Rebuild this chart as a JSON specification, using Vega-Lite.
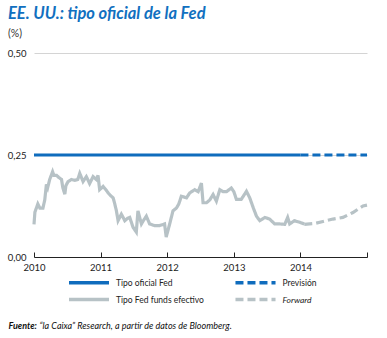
{
  "$schema": "https://vega.github.io/schema/vega-lite/v6.json",
  "width": 333,
  "height": 204,
  "autosize": {"type": "none"},
  "padding": {"left": 34, "top": 53, "right": 20, "bottom": 81},
  "background": "white",
  "config": {"view": {"stroke": null}, "font": "Lato, sans-serif"},
  "title": {
    "text": "EE. UU.: tipo oficial de la Fed",
    "subtitle": "(%)",
    "anchor": "start",
    "frame": "group",
    "dx": -26,
    "offset": 9,
    "color": "#1170c0",
    "fontSize": 16.5,
    "fontWeight": "bold",
    "fontStyle": "italic",
    "font": "Lato, sans-serif",
    "subtitleFont": "Lato, sans-serif",
    "subtitleFontSize": 10.5,
    "subtitleColor": "#333333",
    "subtitlePadding": 6
  },
  "data": {
    "values": [
      {"fecha": "2010-01-01", "valor": 0.25, "serie": "Tipo oficial Fed"},
      {"fecha": "2014-01-01", "valor": 0.25, "serie": "Tipo oficial Fed"},
      {"fecha": "2014-01-01", "valor": 0.25, "serie": "Previsión"},
      {"fecha": "2015-01-01", "valor": 0.25, "serie": "Previsión"},
      {"fecha": "2010-01-01", "valor": 0.08, "serie": "Tipo Fed funds efectivo"},
      {"fecha": "2010-01-06", "valor": 0.11, "serie": "Tipo Fed funds efectivo"},
      {"fecha": "2010-01-22", "valor": 0.13, "serie": "Tipo Fed funds efectivo"},
      {"fecha": "2010-02-02", "valor": 0.12, "serie": "Tipo Fed funds efectivo"},
      {"fecha": "2010-02-19", "valor": 0.12, "serie": "Tipo Fed funds efectivo"},
      {"fecha": "2010-03-01", "valor": 0.14, "serie": "Tipo Fed funds efectivo"},
      {"fecha": "2010-03-10", "valor": 0.178, "serie": "Tipo Fed funds efectivo"},
      {"fecha": "2010-03-17", "valor": 0.17, "serie": "Tipo Fed funds efectivo"},
      {"fecha": "2010-03-28", "valor": 0.19, "serie": "Tipo Fed funds efectivo"},
      {"fecha": "2010-04-13", "valor": 0.209, "serie": "Tipo Fed funds efectivo"},
      {"fecha": "2010-04-20", "valor": 0.2, "serie": "Tipo Fed funds efectivo"},
      {"fecha": "2010-05-05", "valor": 0.2, "serie": "Tipo Fed funds efectivo"},
      {"fecha": "2010-05-17", "valor": 0.195, "serie": "Tipo Fed funds efectivo"},
      {"fecha": "2010-06-01", "valor": 0.19, "serie": "Tipo Fed funds efectivo"},
      {"fecha": "2010-06-08", "valor": 0.17, "serie": "Tipo Fed funds efectivo"},
      {"fecha": "2010-06-19", "valor": 0.154, "serie": "Tipo Fed funds efectivo"},
      {"fecha": "2010-06-25", "valor": 0.175, "serie": "Tipo Fed funds efectivo"},
      {"fecha": "2010-07-07", "valor": 0.185, "serie": "Tipo Fed funds efectivo"},
      {"fecha": "2010-07-25", "valor": 0.19, "serie": "Tipo Fed funds efectivo"},
      {"fecha": "2010-08-13", "valor": 0.188, "serie": "Tipo Fed funds efectivo"},
      {"fecha": "2010-08-29", "valor": 0.19, "serie": "Tipo Fed funds efectivo"},
      {"fecha": "2010-09-09", "valor": 0.205, "serie": "Tipo Fed funds efectivo"},
      {"fecha": "2010-09-27", "valor": 0.185, "serie": "Tipo Fed funds efectivo"},
      {"fecha": "2010-10-15", "valor": 0.197, "serie": "Tipo Fed funds efectivo"},
      {"fecha": "2010-11-02", "valor": 0.18, "serie": "Tipo Fed funds efectivo"},
      {"fecha": "2010-11-21", "valor": 0.197, "serie": "Tipo Fed funds efectivo"},
      {"fecha": "2010-12-09", "valor": 0.19, "serie": "Tipo Fed funds efectivo"},
      {"fecha": "2010-12-18", "valor": 0.2, "serie": "Tipo Fed funds efectivo"},
      {"fecha": "2010-12-27", "valor": 0.165, "serie": "Tipo Fed funds efectivo"},
      {"fecha": "2011-01-15", "valor": 0.173, "serie": "Tipo Fed funds efectivo"},
      {"fecha": "2011-01-30", "valor": 0.165, "serie": "Tipo Fed funds efectivo"},
      {"fecha": "2011-02-12", "valor": 0.157, "serie": "Tipo Fed funds efectivo"},
      {"fecha": "2011-02-26", "valor": 0.15, "serie": "Tipo Fed funds efectivo"},
      {"fecha": "2011-03-11", "valor": 0.145, "serie": "Tipo Fed funds efectivo"},
      {"fecha": "2011-03-20", "valor": 0.13, "serie": "Tipo Fed funds efectivo"},
      {"fecha": "2011-03-29", "valor": 0.113, "serie": "Tipo Fed funds efectivo"},
      {"fecha": "2011-04-07", "valor": 0.089, "serie": "Tipo Fed funds efectivo"},
      {"fecha": "2011-04-25", "valor": 0.105, "serie": "Tipo Fed funds efectivo"},
      {"fecha": "2011-05-14", "valor": 0.089, "serie": "Tipo Fed funds efectivo"},
      {"fecha": "2011-05-30", "valor": 0.095, "serie": "Tipo Fed funds efectivo"},
      {"fecha": "2011-06-10", "valor": 0.097, "serie": "Tipo Fed funds efectivo"},
      {"fecha": "2011-06-28", "valor": 0.073, "serie": "Tipo Fed funds efectivo"},
      {"fecha": "2011-07-16", "valor": 0.061, "serie": "Tipo Fed funds efectivo"},
      {"fecha": "2011-07-25", "valor": 0.113, "serie": "Tipo Fed funds efectivo"},
      {"fecha": "2011-08-13", "valor": 0.081, "serie": "Tipo Fed funds efectivo"},
      {"fecha": "2011-08-25", "valor": 0.09, "serie": "Tipo Fed funds efectivo"},
      {"fecha": "2011-09-09", "valor": 0.1, "serie": "Tipo Fed funds efectivo"},
      {"fecha": "2011-09-27", "valor": 0.081, "serie": "Tipo Fed funds efectivo"},
      {"fecha": "2011-10-24", "valor": 0.077, "serie": "Tipo Fed funds efectivo"},
      {"fecha": "2011-11-21", "valor": 0.077, "serie": "Tipo Fed funds efectivo"},
      {"fecha": "2011-12-18", "valor": 0.081, "serie": "Tipo Fed funds efectivo"},
      {"fecha": "2011-12-27", "valor": 0.049, "serie": "Tipo Fed funds efectivo"},
      {"fecha": "2012-01-15", "valor": 0.081, "serie": "Tipo Fed funds efectivo"},
      {"fecha": "2012-02-02", "valor": 0.113, "serie": "Tipo Fed funds efectivo"},
      {"fecha": "2012-02-21", "valor": 0.12, "serie": "Tipo Fed funds efectivo"},
      {"fecha": "2012-03-05", "valor": 0.13, "serie": "Tipo Fed funds efectivo"},
      {"fecha": "2012-03-19", "valor": 0.149, "serie": "Tipo Fed funds efectivo"},
      {"fecha": "2012-04-16", "valor": 0.145, "serie": "Tipo Fed funds efectivo"},
      {"fecha": "2012-05-04", "valor": 0.157, "serie": "Tipo Fed funds efectivo"},
      {"fecha": "2012-05-31", "valor": 0.165, "serie": "Tipo Fed funds efectivo"},
      {"fecha": "2012-06-19", "valor": 0.16, "serie": "Tipo Fed funds efectivo"},
      {"fecha": "2012-07-07", "valor": 0.181, "serie": "Tipo Fed funds efectivo"},
      {"fecha": "2012-07-16", "valor": 0.133, "serie": "Tipo Fed funds efectivo"},
      {"fecha": "2012-08-04", "valor": 0.133, "serie": "Tipo Fed funds efectivo"},
      {"fecha": "2012-08-22", "valor": 0.14, "serie": "Tipo Fed funds efectivo"},
      {"fecha": "2012-09-09", "valor": 0.153, "serie": "Tipo Fed funds efectivo"},
      {"fecha": "2012-09-27", "valor": 0.137, "serie": "Tipo Fed funds efectivo"},
      {"fecha": "2012-10-16", "valor": 0.165, "serie": "Tipo Fed funds efectivo"},
      {"fecha": "2012-11-03", "valor": 0.16, "serie": "Tipo Fed funds efectivo"},
      {"fecha": "2012-11-21", "valor": 0.16, "serie": "Tipo Fed funds efectivo"},
      {"fecha": "2012-12-18", "valor": 0.169, "serie": "Tipo Fed funds efectivo"},
      {"fecha": "2013-01-01", "valor": 0.16, "serie": "Tipo Fed funds efectivo"},
      {"fecha": "2013-01-15", "valor": 0.141, "serie": "Tipo Fed funds efectivo"},
      {"fecha": "2013-02-10", "valor": 0.141, "serie": "Tipo Fed funds efectivo"},
      {"fecha": "2013-03-11", "valor": 0.161, "serie": "Tipo Fed funds efectivo"},
      {"fecha": "2013-03-29", "valor": 0.145, "serie": "Tipo Fed funds efectivo"},
      {"fecha": "2013-04-17", "valor": 0.121, "serie": "Tipo Fed funds efectivo"},
      {"fecha": "2013-05-05", "valor": 0.1, "serie": "Tipo Fed funds efectivo"},
      {"fecha": "2013-05-23", "valor": 0.089, "serie": "Tipo Fed funds efectivo"},
      {"fecha": "2013-06-20", "valor": 0.097, "serie": "Tipo Fed funds efectivo"},
      {"fecha": "2013-07-16", "valor": 0.093, "serie": "Tipo Fed funds efectivo"},
      {"fecha": "2013-08-13", "valor": 0.081, "serie": "Tipo Fed funds efectivo"},
      {"fecha": "2013-09-09", "valor": 0.081, "serie": "Tipo Fed funds efectivo"},
      {"fecha": "2013-10-07", "valor": 0.08, "serie": "Tipo Fed funds efectivo"},
      {"fecha": "2013-10-23", "valor": 0.097, "serie": "Tipo Fed funds efectivo"},
      {"fecha": "2013-11-03", "valor": 0.081, "serie": "Tipo Fed funds efectivo"},
      {"fecha": "2013-11-29", "valor": 0.089, "serie": "Tipo Fed funds efectivo"},
      {"fecha": "2013-12-28", "valor": 0.085, "serie": "Tipo Fed funds efectivo"},
      {"fecha": "2014-01-22", "valor": 0.081, "serie": "Tipo Fed funds efectivo"},
      {"fecha": "2014-01-22", "valor": 0.08, "serie": "Forward"},
      {"fecha": "2014-03-18", "valor": 0.082, "serie": "Forward"},
      {"fecha": "2014-05-05", "valor": 0.087, "serie": "Forward"},
      {"fecha": "2014-06-28", "valor": 0.093, "serie": "Forward"},
      {"fecha": "2014-08-22", "valor": 0.097, "serie": "Forward"},
      {"fecha": "2014-10-16", "valor": 0.109, "serie": "Forward"},
      {"fecha": "2014-11-22", "valor": 0.12, "serie": "Forward"},
      {"fecha": "2014-12-10", "valor": 0.125, "serie": "Forward"},
      {"fecha": "2015-01-01", "valor": 0.127, "serie": "Forward"}
    ]
  },
  "mark": {"type": "line", "strokeWidth": 3.2, "strokeCap": "butt"},
  "encoding": {
    "x": {
      "field": "fecha",
      "type": "temporal",
      "scale": {"type": "utc", "domain": ["2010-01-01", "2015-01-01"]},
      "axis": {
        "format": "%Y",
        "tickCount": {"interval": "year", "step": 1},
        "labelExpr": "utcyear(datum.value) < 2015 ? datum.label : ''",
        "grid": false,
        "domainColor": "#222222",
        "tickColor": "#222222",
        "tickSize": -5,
        "labelFontSize": 9.5,
        "labelColor": "#222222",
        "labelPadding": 10,
        "labelFlush": false,
        "title": "Fuente:",
        "titleFontStyle": "italic",
        "titleFontWeight": "bold",
        "titleFontSize": 9,
        "titleColor": "#111111",
        "titleAnchor": "start",
        "titleAlign": "left",
        "titleBaseline": "alphabetic",
        "titleX": -26,
        "titleY": 71
      }
    },
    "y": {
      "field": "valor",
      "type": "quantitative",
      "scale": {"domain": [0, 0.5], "nice": false},
      "axis": {
        "values": [0, 0.25, 0.5],
        "labelExpr": "replace(format(datum.value, '.2f'), '.', ',')",
        "domain": false,
        "ticks": false,
        "grid": true,
        "gridColor": "#d4d4d4",
        "labelFontSize": 9.5,
        "labelColor": "#222222",
        "labelPadding": 8,
        "title": "“la Caixa” Research, a partir de datos de Bloomberg.",
        "titleAngle": 0,
        "titleFontStyle": "italic",
        "titleFontWeight": "normal",
        "titleFontSize": 9,
        "titleColor": "#111111",
        "titleAlign": "left",
        "titleBaseline": "alphabetic",
        "titleX": 5,
        "titleY": 275
      }
    },
    "color": {
      "field": "serie",
      "type": "nominal",
      "scale": {
        "domain": ["Tipo oficial Fed", "Previsión", "Tipo Fed funds efectivo", "Forward"],
        "range": ["#0f6cbd", "#0f6cbd", "#b7c2c6", "#b7c2c6"]
      },
      "legend": {
        "title": null,
        "orient": "none",
        "legendX": 45.5,
        "legendY": 220,
        "columns": 2,
        "direction": "horizontal",
        "symbolType": "M-2.67,0H2.67",
        "symbolSize": 225,
        "symbolStrokeWidth": 3.5,
        "labelFontSize": 8.5,
        "labelColor": "#222222",
        "labelOffset": 17.5,
        "columnPadding": 23.5,
        "rowPadding": 0,
        "labelFontStyle": {"expr": "datum.label == 'Forward' ? 'italic' : 'normal'"}
      }
    },
    "strokeDash": {
      "field": "serie",
      "type": "nominal",
      "scale": {
        "domain": ["Tipo oficial Fed", "Previsión", "Tipo Fed funds efectivo", "Forward"],
        "range": [[1, 0], [8, 4], [1, 0], [8, 4]]
      },
      "legend": {
        "title": null,
        "orient": "none",
        "legendX": 45.5,
        "legendY": 220,
        "columns": 2,
        "direction": "horizontal",
        "symbolType": "M-2.67,0H2.67",
        "symbolSize": 225,
        "symbolStrokeWidth": 3.5,
        "labelFontSize": 8.5,
        "labelColor": "#222222",
        "labelOffset": 17.5,
        "columnPadding": 23.5,
        "rowPadding": 0,
        "labelFontStyle": {"expr": "datum.label == 'Forward' ? 'italic' : 'normal'"}
      }
    }
  }
}
